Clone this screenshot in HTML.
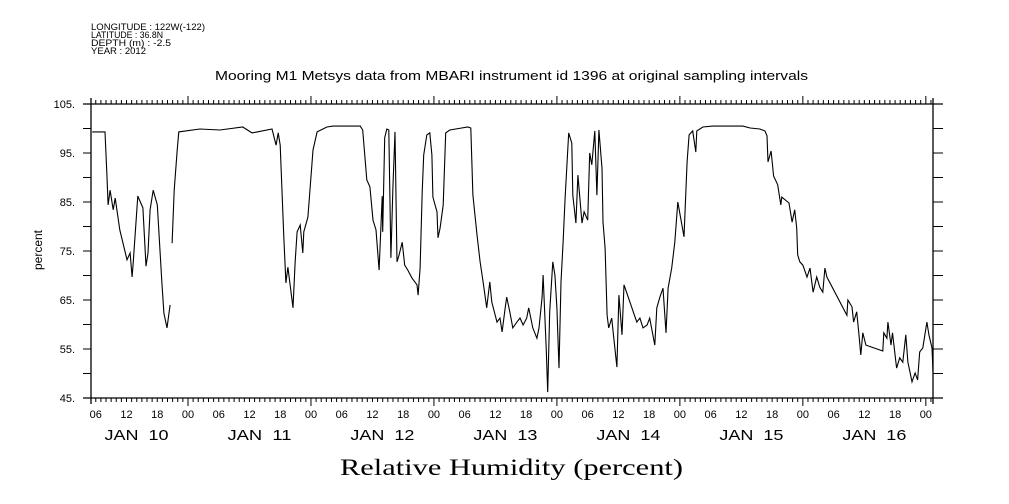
<!DOCTYPE html>
<html><head><meta charset="utf-8"><style>
html,body{margin:0;padding:0;background:#fff;}
svg{display:block;}
text{font-family:"Liberation Sans",sans-serif;fill:#000;}
</style></head><body>
<svg id="chart" width="1009" height="504" viewBox="0 0 1009 504">
<g font-size="9">
<text x="91" y="30" textLength="114" lengthAdjust="spacingAndGlyphs">LONGITUDE : 122W(-122)</text>
<text x="91" y="38" textLength="72" lengthAdjust="spacingAndGlyphs">LATITUDE : 36.8N</text>
<text x="91" y="46" textLength="80" lengthAdjust="spacingAndGlyphs">DEPTH (m) : -2.5</text>
<text x="91" y="54" textLength="55" lengthAdjust="spacingAndGlyphs">YEAR : 2012</text>
</g>
<text x="215" y="80" textLength="593" lengthAdjust="spacingAndGlyphs" font-size="13">Mooring M1 Metsys data from MBARI instrument id 1396 at original sampling intervals</text>
<text transform="translate(42,250) rotate(-90)" text-anchor="middle" font-size="12">percent</text>
<text x="340" y="475" textLength="343" lengthAdjust="spacingAndGlyphs" font-size="23" style="font-family:'Liberation Serif',serif">Relative Humidity (percent)</text>
<g id="axes"></g>
<g id="ticks"></g>
<g id="series"></g>
</svg>
<script>
const times = [5.3,7.8,8.2,8.4,8.8,9.4,9.8,10.7,12.1,12.7,13.1,13.3,14.2,15.2,15.8,16.2,16.6,17.2,18.0,18.9,19.3,19.9,20.5,
null,
20.9,21.3,21.9,22.2,26.3,30.2,34.7,36.5,37.5,40.4,41.2,41.6,42.0,42.7,43.1,43.5,44.5,44.9,45.3,45.9,46.4,46.6,47.4,48.4,49.2,51.1,52.3,57.6,58.1,58.9,59.5,60.1,60.7,61.3,61.9,62.0,62.4,62.8,63.2,63.6,64.0,64.4,64.8,65.2,65.8,66.3,66.9,67.7,68.7,68.9,69.3,69.7,70.0,70.6,71.2,71.6,71.8,72.6,72.8,73.2,73.8,74.3,75.1,78.6,79.2,79.6,80.4,81.0,81.6,82.3,82.9,83.3,84.3,84.9,85.3,85.9,86.2,86.8,87.4,88.2,88.8,89.4,90.1,90.5,91.3,92.1,92.5,93.1,93.3,93.9,94.2,94.6,95.2,95.6,96.0,96.4,96.8,97.2,97.6,98.3,98.9,99.1,99.7,100.1,100.9,101.3,102.0,102.4,102.8,103.4,103.8,104.2,104.8,105.0,105.4,105.8,106.1,106.7,107.1,107.7,108.1,108.7,109.1,111.6,112.2,112.8,113.6,114.1,115.1,115.5,116.1,116.7,117.3,117.7,118.4,119.0,119.6,120.4,120.8,121.4,121.8,122.5,123.1,123.3,124.5,126.4,132.3,133.7,135.6,136.6,137.0,137.2,137.8,138.3,139.1,139.7,139.9,141.3,141.9,142.4,142.8,143.0,143.4,144.0,144.8,145.4,146.0,146.7,147.3,147.9,148.3,148.7,152.6,152.8,153.6,153.9,154.5,154.9,155.3,155.7,156.3,159.6,159.8,160.4,160.6,161.2,161.5,162.3,162.9,163.5,164.1,164.5,165.3,165.9,166.4,166.8,167.4,168.2,168.6,169.2,169.4];
const humidity = [99.3,99.3,90.1,84.4,87.4,83.4,85.8,79.3,73.2,74.6,69.7,72.6,86.2,83.8,71.9,74.6,83.4,87.4,84.4,68.5,62.3,59.3,64.0,
null,
76.6,87.4,95.6,99.3,99.9,99.7,100.3,99.1,99.3,99.9,96.6,99.1,96.6,77.9,68.5,71.7,63.4,72.6,78.9,80.3,74.6,78.9,81.9,95.6,99.3,100.3,100.5,100.5,99.7,89.5,88.1,81.3,79.3,71.1,86.2,78.9,98.1,99.9,99.7,73.6,87.9,99.3,72.8,74.2,76.8,72.1,71.1,69.5,68.1,66.0,71.5,87.0,94.6,98.7,99.1,94.6,86.0,83.0,77.7,79.7,84.4,99.1,99.7,100.3,100.1,86.4,78.3,72.8,68.7,63.4,68.7,64.6,60.5,61.3,58.5,63.4,65.6,62.6,59.3,60.5,61.3,59.9,61.3,63.4,59.3,57.2,59.3,65.6,70.1,55.2,46.2,62.6,72.8,70.1,63.4,51.1,68.7,76.8,85.8,99.1,97.0,86.4,80.7,90.5,80.7,83.0,81.3,95.0,92.6,99.5,86.4,99.7,91.9,80.9,75.6,61.9,59.3,61.3,57.2,51.3,66.0,57.9,68.1,60.5,61.3,59.3,59.9,61.3,55.8,63.4,65.6,67.4,58.3,67.4,71.5,76.8,85.0,80.3,77.9,93.2,98.7,99.5,95.2,99.5,100.3,100.5,100.5,100.1,99.9,99.5,98.5,93.2,95.4,90.3,88.5,84.4,86.0,84.8,80.9,83.4,79.7,74.2,72.8,72.1,69.7,71.5,66.6,69.7,67.6,66.6,71.5,69.7,61.9,65.0,63.6,60.5,62.6,58.5,53.8,58.3,55.8,54.6,58.3,57.2,60.5,55.8,58.3,51.1,53.2,52.3,57.9,52.3,48.3,50.1,48.7,54.4,55.2,60.5,57.9,55.2,50.3];
const yTicks = [105,95,85,75,65,55,45];
const hourLabels = ["06","12","18","00"];
const dayLabels = ["JAN  10","JAN  11","JAN  12","JAN  13","JAN  14","JAN  15","JAN  16"];

const NS="http://www.w3.org/2000/svg";
const L=91,R=933,T=104,B=398;
const H0=5.07,H1=169.4,V0=45,V1=105;
const xs=h=>L+(h-H0)/(H1-H0)*(R-L);
const ys=v=>B-(v-V0)/(V1-V0)*(B-T);
function mk(tag,attrs,parent){const e=document.createElementNS(NS,tag);for(const k in attrs)e.setAttribute(k,attrs[k]);parent.appendChild(e);return e;}
const axes=document.getElementById('axes'),tk=document.getElementById('ticks'),sr=document.getElementById('series');

let e;
e=mk('line',{x1:L,y1:T-6,x2:L,y2:B+6,stroke:'#000','stroke-width':1.3},axes);


e=mk('line',{x1:R,y1:T-6,x2:R,y2:B+6,stroke:'#000','stroke-width':1.3},axes);


e=mk('line',{x1:L-8,y1:T,x2:R+10,y2:T,stroke:'#000','stroke-width':1.3},axes);


e=mk('line',{x1:L-8,y1:B,x2:R+10,y2:B,stroke:'#000','stroke-width':1.3},axes);



for(let v=V0;v<=V1;v+=5){
  const y=ys(v);
  e=mk('line',{x1:L-8,y1:y,x2:L,y2:y,stroke:'#000'},tk);
  
  
  e=mk('line',{x1:R,y1:y,x2:R+10,y2:y,stroke:'#000'},tk);
  
  
}
yTicks.forEach(v=>{
  const t=mk('text',{x:L-16,y:ys(v)+4,'text-anchor':'end','font-size':11},tk);
  t.textContent=v+'.';
  
  
});
for(let h=Math.ceil(H0);h<=H1;h++){
  const x=xs(h);const major=(h%24===0);
  e=mk('line',{x1:x,y1:T-(major?8:4),x2:x,y2:T,stroke:'#000'},tk);
  
  
  e=mk('line',{x1:x,y1:B,x2:x,y2:B+(major?8:4),stroke:'#000'},tk);
  
  
}
for(let h=6,i=0;h<=H1;h+=6,i++){
  const t=mk('text',{x:xs(h),y:418,'text-anchor':'middle','font-size':11},tk);
  t.textContent=hourLabels[i%4];
  
  
}
dayLabels.forEach((d,i)=>{
  const cx=xs(12+24*i)+10;
  const t=mk('text',{x:cx-32,y:440,'font-size':15,textLength:64,lengthAdjust:'spacingAndGlyphs','xml:space':'preserve'},tk);
  t.setAttribute('style','white-space:pre');
  t.textContent=d;
  
  
});
let d='',pen=false;
for(let i=0;i<times.length;i++){
  if(times[i]===null||humidity[i]===null){pen=false;continue;}
  d+=(pen?'L':'M')+xs(times[i]).toFixed(1)+' '+ys(humidity[i]).toFixed(1)+' ';pen=true;
}
const p=mk('path',{d:d,fill:'none',stroke:'#000','stroke-width':1.1},sr);


</script>
</body></html>
